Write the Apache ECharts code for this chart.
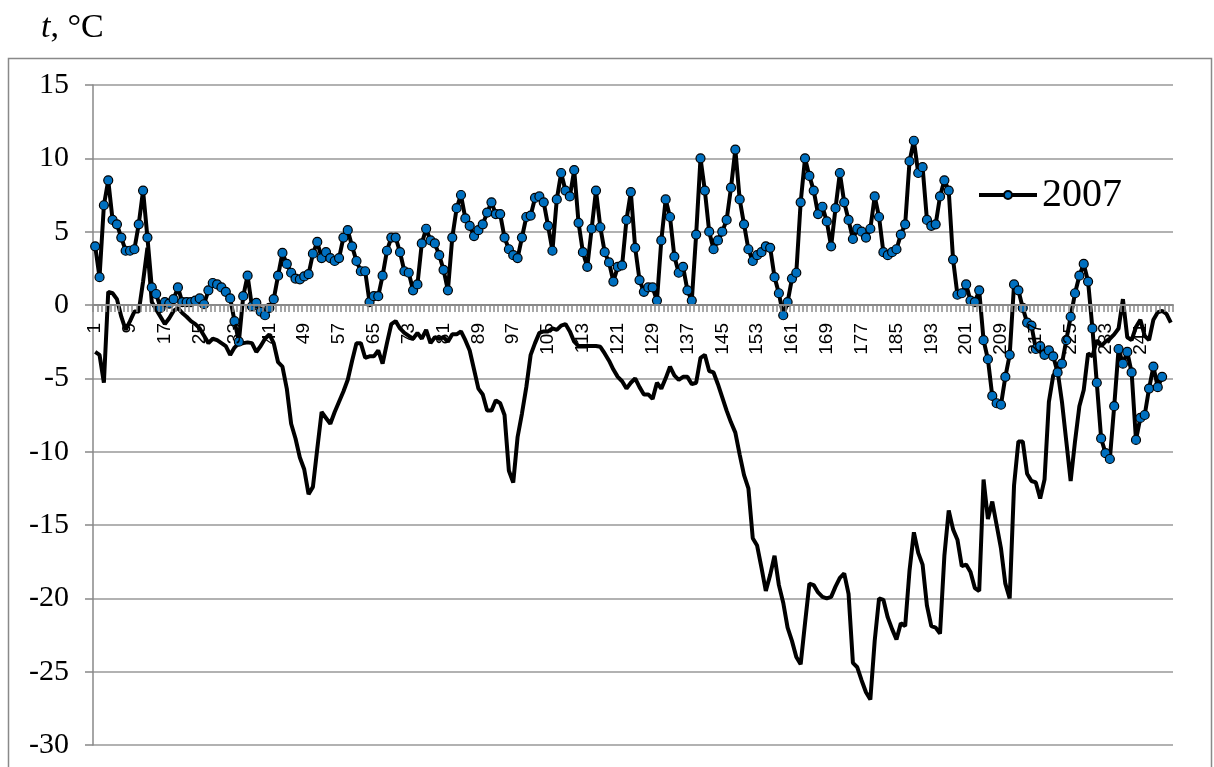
<!DOCTYPE html>
<html>
<head>
<meta charset="utf-8">
<title>t, °C 2007</title>
<script src="https://cdn.jsdelivr.net/npm/echarts@6/dist/echarts.min.js"></script>
<style>
  html, body { margin: 0; padding: 0; background: #fff; }
  #chart { width: 1214px; height: 767px; }
</style>
</head>
<body>
<div id="chart"></div>
<script>
// day numbers on the x axis (1..248)
var days = [];
for (var d = 1; d <= 248; d++) days.push(String(d));

var yTicks = [-30, -25, -20, -15, -10, -5, 0, 5, 10, 15];

// 2007, blue markers
var temp2007 = [
  4.0, 1.9, 6.8, 8.5, 5.8, 5.5, 4.6, 3.7, 3.7, 3.8,
  5.5, 7.8, 4.6, 1.2, 0.75, -0.2, 0.2, 0.1, 0.4, 1.2,
  0.2, 0.2, 0.2, 0.3, 0.45, 0.05, 1.0, 1.5, 1.4, 1.2,
  0.9, 0.45, -1.1, -2.5, 0.6, 2.0, -0.1, 0.15, -0.45, -0.7,
  -0.2, 0.4, 2.0, 3.55, 2.8, 2.2, 1.8, 1.75, 1.95, 2.1,
  3.5, 4.3, 3.2, 3.6, 3.2, 3.0, 3.2, 4.6, 5.1, 4.0,
  3.0, 2.3, 2.3, 0.2, 0.6, 0.6, 2.0, 3.7, 4.6, 4.6,
  3.6, 2.3, 2.2, 1.0, 1.4, 4.2, 5.2, 4.4, 4.2, 3.4,
  2.4, 1.0, 4.6, 6.6, 7.5, 5.9, 5.4, 4.7, 5.1, 5.5,
  6.3, 7.0, 6.2, 6.2, 4.6, 3.8, 3.4, 3.2, 4.6, 6.0,
  6.1, 7.3, 7.4, 7.0, 5.4, 3.7, 7.2, 9.0, 7.8, 7.4,
  9.2, 5.6, 3.6, 2.6, 5.2, 7.8, 5.3, 3.6, 2.9, 1.6,
  2.6, 2.7, 5.8, 7.7, 3.9, 1.7, 0.9, 1.2, 1.2, 0.3,
  4.4, 7.2, 6.0, 3.3, 2.2, 2.6, 1.0, 0.3, 4.8, 10.0,
  7.8, 5.0, 3.8, 4.4, 5.0, 5.8, 8.0, 10.6, 7.2, 5.5,
  3.8, 3.0, 3.4, 3.6, 4.0, 3.9, 1.9, 0.8, -0.7, 0.2,
  1.8, 2.2, 7.0, 10.0, 8.8, 7.8, 6.2, 6.7, 5.7, 4.0,
  6.6, 9.0, 7.0, 5.8, 4.5, 5.2, 5.0, 4.6, 5.2, 7.4,
  6.0, 3.6, 3.4, 3.6, 3.8, 4.8, 5.5, 9.8, 11.2, 9.0,
  9.4, 5.8, 5.4, 5.5, 7.4, 8.5, 7.8, 3.1, 0.7, 0.8,
  1.4, 0.3, 0.2, 1.0, -2.4, -3.7, -6.2, -6.7, -6.8, -4.9,
  -3.4, 1.4, 1.0, -0.2, -1.2, -1.4, -3.0, -2.8, -3.4, -3.1,
  -3.5, -4.6, -4.0, -2.4, -0.8, 0.8, 2.0, 2.8, 1.6, -1.6,
  -5.3, -9.1, -10.1, -10.5, -6.9, -3.0, -4.0, -3.2, -4.6, -9.2,
  -7.7, -7.5, -5.7, -4.2, -5.6, -4.9
];

// second line, plain black, not in the legend
var tempOther = [
  -3.2, -3.4, -5.3, 0.9, 0.8, 0.4, -0.8, -1.7, -1.1, -0.45,
  -0.45, 1.6, 3.9, 0.2, -0.3, -0.8, -1.3, -0.9, -0.4, -0.2,
  -0.55, -0.8, -1.1, -1.3, -1.6, -2.1, -2.6, -2.3, -2.4, -2.6,
  -2.8, -3.4, -2.9, -2.6, -2.6, -2.55, -2.6, -3.2, -2.8, -2.3,
  -2.0, -2.6, -3.9, -4.2, -5.7, -8.1, -9.1, -10.4, -11.2, -12.9,
  -12.4, -9.8, -7.3, -7.7, -8.1, -7.3, -6.6, -5.9, -5.1, -3.8,
  -2.6, -2.6, -3.6, -3.5, -3.5, -3.1, -4.0, -2.6, -1.3, -1.1,
  -1.6, -1.9, -2.1, -2.3, -1.9, -2.3, -1.7, -2.6, -2.2, -2.3,
  -2.2, -2.5, -2.0, -2.0, -1.8, -2.4, -3.1, -4.4, -5.7, -6.1,
  -7.2, -7.2, -6.5, -6.7, -7.5, -11.3, -12.1, -9.0, -7.4, -5.6,
  -3.4, -2.6, -1.9, -1.8, -1.8, -1.6, -1.7, -1.4, -1.3, -1.8,
  -2.5, -2.8, -2.8, -2.8, -2.8, -2.8, -2.85, -3.3, -3.8, -4.4,
  -4.9, -5.2, -5.7, -5.3, -5.0, -5.6, -6.1, -6.1, -6.4, -5.3,
  -5.7, -5.0, -4.2, -4.8, -5.1, -4.9, -4.9, -5.4, -5.3, -3.6,
  -3.4, -4.5, -4.6, -5.4, -6.3, -7.2, -8.0, -8.7, -10.2, -11.6,
  -12.5, -15.9, -16.4, -17.9, -19.5, -18.4, -17.1, -19.1, -20.3, -22.0,
  -22.9, -24.0, -24.5, -21.7, -19.0, -19.1, -19.6, -19.9, -20.0, -19.9,
  -19.2, -18.6, -18.3, -19.7, -24.4, -24.7, -25.6, -26.4, -26.9, -22.9,
  -20.0, -20.1, -21.3, -22.1, -22.8, -21.7, -21.9, -18.1, -15.5, -16.9,
  -17.7, -20.5, -21.9, -22.0, -22.4, -17.1, -14.0, -15.3, -16.0, -17.8,
  -17.7, -18.2, -19.3, -19.5, -11.9, -14.6, -13.4, -15.0, -16.6, -19.0,
  -20.0, -12.3, -9.3, -9.3, -11.5, -12.0, -12.1, -13.2, -11.9, -6.6,
  -4.8, -4.5, -6.6, -9.3, -12.0, -9.3, -6.9, -5.8, -3.3, -3.5,
  -2.4, -2.8, -2.5, -2.3, -2.0, -1.6, 0.4, -2.2, -2.4, -1.5,
  -1.0, -2.1, -2.4, -1.0, -0.5, -0.4, -0.6, -1.2
];

var chart = echarts.init(document.getElementById('chart'));

var gridTop = 85, gridBottom = 22, plotH = 767 - gridTop - gridBottom;
// move the category axis up to the 0 line
var zeroOffset = -plotH * (0 - yTicks[0]) / (yTicks[yTicks.length - 1] - yTicks[0]);

var option = {
  animation: false,
  backgroundColor: '#fff',
  title: {
    text: '{i|t}, °C',
    left: 36,
    top: 6,
    textStyle: {
      fontFamily: 'Liberation Serif',
      fontSize: 34,
      fontWeight: 'normal',
      color: '#000',
      rich: {
        i: { fontFamily: 'Liberation Serif', fontSize: 34, fontStyle: 'italic', color: '#000' }
      }
    }
  },
  graphic: [
    {
      type: 'rect',
      silent: true,
      shape: { x: 8.5, y: 58.5, width: 1203, height: 740 },
      style: { fill: 'none', stroke: '#898989', lineWidth: 1.5 }
    }
  ],
  legend: {
    data: ['2007'],
    left: 972,
    top: 170,
    itemWidth: 58,
    itemHeight: 10,
    itemGap: 0,
    lineStyle: { width: 4, color: '#000' },
    textStyle: { fontFamily: 'Liberation Serif', fontSize: 40, color: '#000' }
  },
  grid: { left: 93, right: 41, top: gridTop, bottom: gridBottom, containLabel: false },
  xAxis: {
    type: 'category',
    data: days,
    boundaryGap: true,
    position: 'bottom',
    offset: zeroOffset,
    z: 5,
    axisLine: { onZero: false, lineStyle: { color: '#888', width: 2 } },
    axisTick: { show: true, interval: 0, length: 7, lineStyle: { color: '#8c8c8c', width: 1.5 } },
    axisLabel: {
      interval: 7,
      rotate: 90,
      margin: 18,
      fontFamily: 'Liberation Sans Narrow, Liberation Sans',
      fontSize: 19,
      color: '#000'
    },
    splitLine: { show: false }
  },
  yAxis: {
    type: 'value',
    min: yTicks[0],
    max: yTicks[yTicks.length - 1],
    interval: 5,
    axisLine: { show: true, lineStyle: { color: '#888', width: 1.5 } },
    axisTick: { show: true, length: 8, lineStyle: { color: '#888', width: 1.5 } },
    axisLabel: {
      margin: 24,
      fontFamily: 'Liberation Serif',
      fontSize: 30,
      color: '#000'
    },
    splitLine: { show: true, lineStyle: { color: '#999', width: 1.5 } }
  },
  series: [
    {
      name: 'other',
      type: 'line',
      data: tempOther,
      showSymbol: false,
      symbol: 'none',
      lineStyle: { color: '#000', width: 4 },
      itemStyle: { color: '#000' },
      z: 2
    },
    {
      name: '2007',
      type: 'line',
      data: temp2007,
      symbol: 'circle',
      symbolSize: 9,
      showAllSymbol: true,
      lineStyle: { color: '#000', width: 4 },
      itemStyle: { color: '#0070C0', borderColor: '#000', borderWidth: 1.2 },
      z: 3
    }
  ]
};

chart.setOption(option);
</script>
</body>
</html>
